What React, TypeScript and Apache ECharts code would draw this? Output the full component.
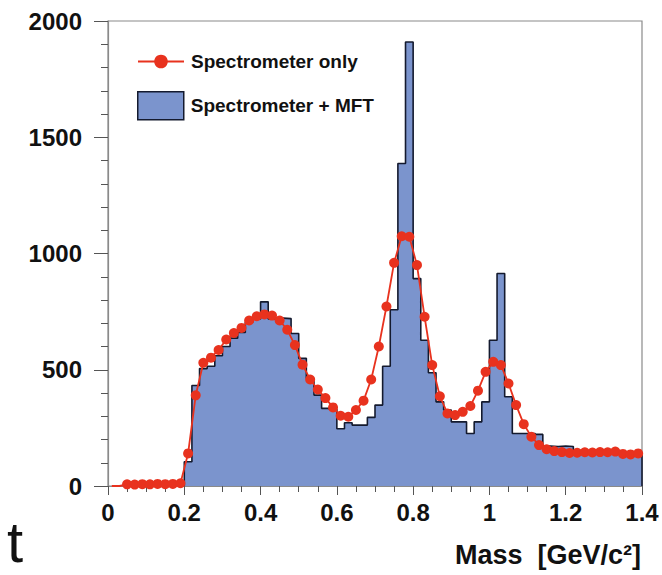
import React, { useEffect, useRef } from "react";
import * as echarts from "echarts";

// Histogram "Spectrometer + MFT": bins of width 0.02 GeV/c^2 from 0.20 to 1.40
const BIN_START = 0.2;
const BIN_WIDTH = 0.02;
const mftCounts = [
  104, 432, 505, 515, 560, 600, 636, 660, 705, 718,
  792, 718, 722, 720, 656, 549, 463, 391, 334, 330,
  246, 272, 262, 262, 295, 348, 515, 758, 1387, 1910,
  892, 627, 487, 362, 327, 276, 276, 226, 276, 362,
  627, 914, 384, 226, 226, 226, 222, 172, 170, 172,
  170, 152, 150, 150, 150, 148, 148, 146, 140, 138,
];

// Points "Spectrometer only": bin centres 0.01 .. 1.39
const POINT_START = 0.01;
const spectroCounts = [
  0, 0, 7, 6, 8, 7, 9, 8, 9, 12,
  140, 390, 530, 552, 585, 630, 658, 680, 712, 730,
  738, 733, 712, 672, 606, 522, 458, 415, 378, 338,
  302, 298, 327, 367, 458, 600, 772, 960, 1074, 1072,
  950, 728, 520, 386, 312, 305, 319, 344, 410, 491,
  534, 520, 441, 348, 266, 212, 176, 158, 150, 146,
  142, 143, 145, 144, 146, 145, 148, 138, 136, 140,
];

const xTicks = [0, 0.2, 0.4, 0.6, 0.8, 1, 1.2, 1.4];
const yTicks = [0, 500, 1000, 1500, 2000];

const RED = "#E8321E";
const BLUE = "#7B94CD";
const OUTLINE = "#141A2E";
const FONT = "'Liberation Sans', Arial, Helvetica, sans-serif";

export default function App() {
  const ref = useRef<HTMLDivElement>(null);
  useEffect(() => {
    if (!ref.current) return;
    const chart = echarts.init(ref.current, null, { renderer: "svg" });

    const histPts: number[][] = [[BIN_START, 0]];
    mftCounts.forEach((v, i) => {
      const l = +(BIN_START + i * BIN_WIDTH).toFixed(3);
      const r = +(l + BIN_WIDTH).toFixed(3);
      histPts.push([l, v], [r, v]);
    });
    histPts.push([+(BIN_START + mftCounts.length * BIN_WIDTH).toFixed(3), 0]);

    const pts = spectroCounts.map((v, i) => ({
      value: [+(POINT_START + i * BIN_WIDTH).toFixed(3), v],
      symbolSize: v === 0 ? 0 : 10,
    }));

    const legendText = {
      fontFamily: FONT,
      fontWeight: "bold",
      fontSize: 19,
      color: "#111",
      padding: [0, 0, 0, 2],
    };

    chart.setOption({
      animation: false,
      backgroundColor: "#ffffff",
      grid: {
        left: 108,
        right: 20,
        top: 21,
        bottom: 89,
        show: true,
        borderColor: "#8a8a8a",
        borderWidth: 1.2,
        backgroundColor: "transparent",
      },
      legend: [
        {
          left: 132,
          top: 47,
          orient: "vertical",
          itemWidth: 46,
          itemHeight: 17,
          textStyle: legendText,
          data: [{ name: "Spectrometer only" }],
        },
        {
          left: 132,
          top: 86,
          orient: "vertical",
          itemWidth: 46,
          itemHeight: 28,
          textStyle: legendText,
          data: [
            {
              name: "Spectrometer + MFT",
              icon: "rect",
              itemStyle: { color: BLUE, borderColor: OUTLINE, borderWidth: 1.5 },
            },
          ],
        },
      ],
      xAxis: {
        type: "value",
        min: xTicks[0],
        max: xTicks[xTicks.length - 1],
        interval: 0.2,
        axisLine: { show: true, onZero: false, lineStyle: { color: "#8a8a8a", width: 1.2 } },
        axisTick: { show: true, length: 9, lineStyle: { color: "#555", width: 1 } },
        minorTick: { show: true, splitNumber: 4, length: 6, lineStyle: { color: "#555", width: 1 } },
        splitLine: { show: false },
        axisLabel: {
          margin: 14,
          fontFamily: FONT,
          fontWeight: "bold",
          fontSize: 24,
          color: "#111",
          formatter: (v: number) => String(+v.toFixed(1)),
        },
      },
      yAxis: {
        type: "value",
        min: yTicks[0],
        max: yTicks[yTicks.length - 1],
        interval: 500,
        axisLine: { show: true, lineStyle: { color: "#8a8a8a", width: 1.2 } },
        axisTick: { show: true, length: 14, lineStyle: { color: "#555", width: 1 } },
        minorTick: { show: true, splitNumber: 5, length: 7, lineStyle: { color: "#555", width: 1 } },
        splitLine: { show: false },
        axisLabel: {
          margin: 26,
          fontFamily: FONT,
          fontWeight: "bold",
          fontSize: 24,
          color: "#111",
          formatter: (v: number) => String(v),
        },
      },
      series: [
        {
          name: "Spectrometer + MFT",
          type: "line",
          data: histPts,
          symbol: "none",
          lineStyle: { color: OUTLINE, width: 1.6 },
          itemStyle: { color: BLUE },
          areaStyle: { color: BLUE, opacity: 1 },
          z: 2,
        },
        {
          name: "Spectrometer only",
          type: "line",
          data: pts,
          symbol: "circle",
          symbolSize: 10,
          lineStyle: { color: RED, width: 1.8 },
          itemStyle: { color: RED },
          z: 3,
        },
      ],
      graphic: [
        {
          type: "text",
          right: 21,
          top: 541,
          style: {
            text: "Mass  [GeV/c²]",
            fontFamily: FONT,
            fontWeight: "bold",
            fontSize: 27,
            fill: "#111",
          },
        },
        {
          type: "text",
          left: 7,
          top: 512,
          style: {
            text: "t",
            fontFamily: FONT,
            fontSize: 58,
            lineHeight: 48,
            fill: "#111",
          },
        },
      ],
    });
    return () => chart.dispose();
  }, []);
  return <div ref={ref} style={{ width: 662, height: 575, position: "absolute", left: 0, top: 0 }} />;
}
